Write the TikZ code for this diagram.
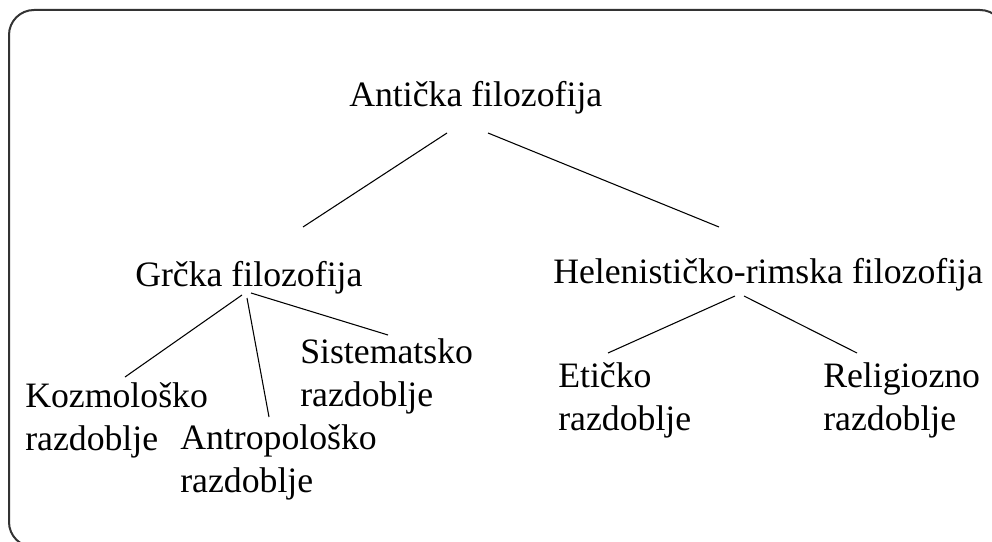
\documentclass[tikz,border=0pt]{standalone}
\usepackage{fontspec}
\setmainfont{Liberation Serif}
\usetikzlibrary{calc}

\begin{document}
\begin{tikzpicture}[
    x=0.75pt, y=-0.75pt,
    every node/.style={inner sep=0pt, anchor=base west, align=left,
        font=\fontsize{26.8}{32}\selectfont},
    conn/.style={draw=black, line width=0.8pt},
    frame/.style={draw=black!80, line width=1.5pt, rounded corners=18.75pt}
]
    \useasboundingbox (0,0) rectangle (992,542);
    \clip (0,0) rectangle (992,542);
    \draw[frame] (9,10) rectangle (1005,547);

    % base of a two-line node is its last line
    \node (anticka) at (349,106) {Antička filozofija};
    \node (grcka)   at (135,286) {Grčka filozofija};
    \node (helen)   at (553,283) {Helenističko-rimska filozofija};
    \node (kozmo)   at (25,450)  {Kozmološko\\razdoblje};
    \node (antropo) at (180,492) {Antropološko\\razdoblje};
    \node (sistem)  at (300,406) {Sistematsko\\razdoblje};
    \node (eticko)  at (558,430) {Etičko\\razdoblje};
    \node (relig)   at (823,430) {Religiozno\\razdoblje};

    % first level
    \draw[conn] ($(anticka.base west)+(98,27)$)  -- ($(grcka.base west)+(168,-59)$);
    \draw[conn] ($(anticka.base west)+(139,27)$) -- ($(helen.base west)+(166,-56)$);
    % greek periods
    \draw[conn] ($(grcka.base west)+(107,9)$)  -- ($(kozmo.base west)+(100,-73)$);
    \draw[conn] ($(grcka.base west)+(112,12)$) -- ($(antropo.base west)+(89,-75)$);
    \draw[conn] ($(grcka.base west)+(116,7)$)  -- ($(sistem.base west)+(88,-71)$);
    % hellenistic periods
    \draw[conn] ($(helen.base west)+(182,13)$) -- ($(eticko.base west)+(50,-77)$);
    \draw[conn] ($(helen.base west)+(191,13)$) -- ($(relig.base west)+(34,-77)$);
\end{tikzpicture}
\end{document}
